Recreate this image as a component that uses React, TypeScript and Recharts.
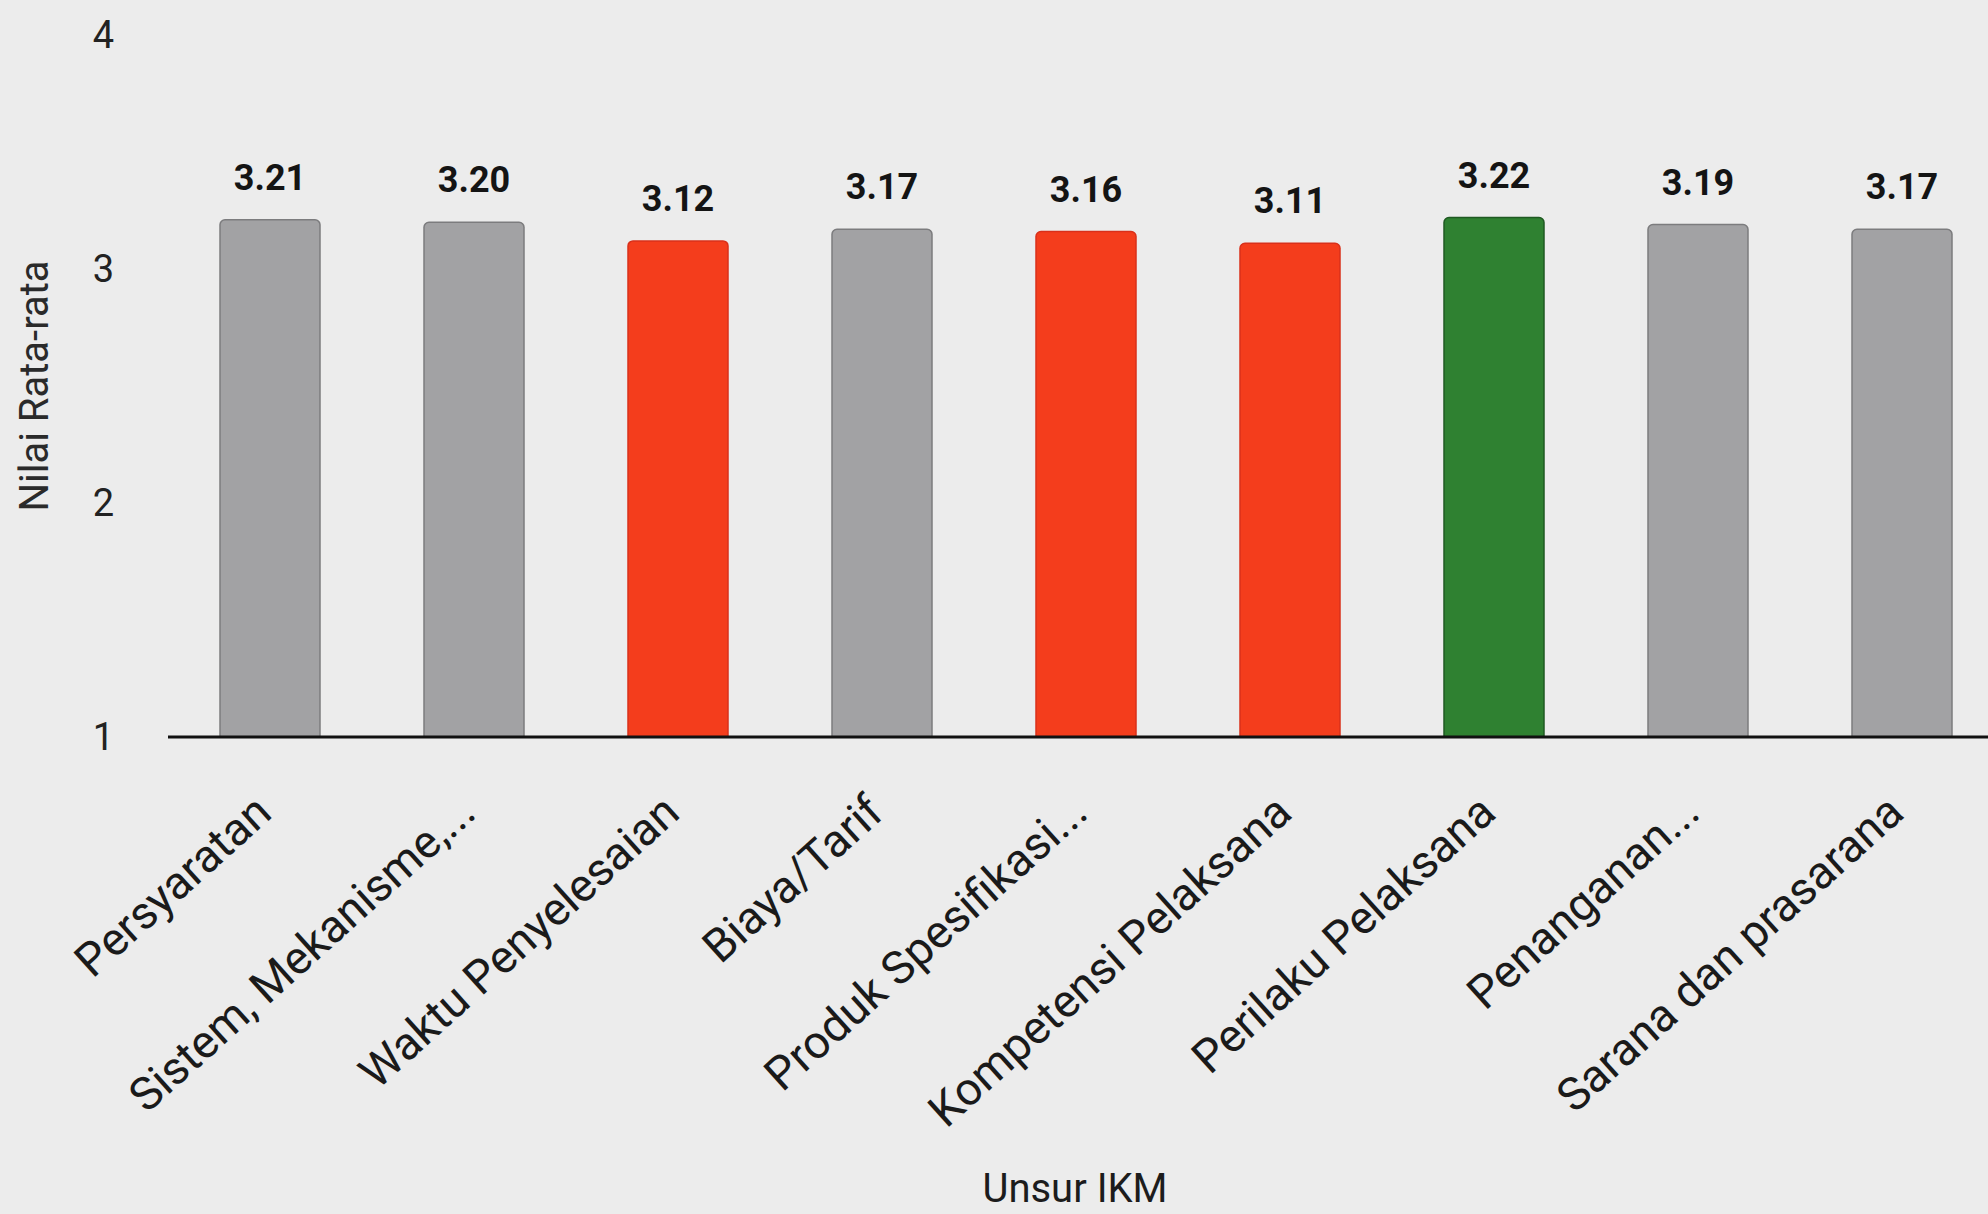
import React from 'react';
import { BarChart, Bar, XAxis, YAxis, Cell, LabelList } from 'recharts';

const categories = [
  'Persyaratan',
  'Sistem, Mekanisme,...',
  'Waktu Penyelesaian',
  'Biaya/Tarif',
  'Produk Spesifikasi...',
  'Kompetensi Pelaksana',
  'Perilaku Pelaksana',
  'Penanganan...',
  'Sarana dan prasarana',
];
const values = [3.21, 3.2, 3.12, 3.17, 3.16, 3.11, 3.22, 3.19, 3.17];
const barColors = ['#a2a2a4', '#a2a2a4', '#f43d1c', '#a2a2a4', '#f43d1c', '#f43d1c', '#2f8131', '#a2a2a4', '#a2a2a4'];
const barStrokes = ['#7c7c7e', '#7c7c7e', '#d9301a', '#7c7c7e', '#d9301a', '#d9301a', '#1f5a22', '#7c7c7e', '#7c7c7e'];
const yTicks = [1, 2, 3, 4];
const xTitle = 'Unsur IKM';
const yTitle = 'Nilai Rata-rata';

const data = categories.map((name, i) => ({ name, value: values[i] }));

const FONT = 'Roboto, "Noto Sans", sans-serif';

const CatTick = (props: any) => {
  const { x, y, payload } = props;
  return (
    <g transform={`translate(${x + 4},${y + 79})`}>
      <text transform="rotate(-42)" textAnchor="end" fontSize={46} fill="#1a1a1a" fontFamily={FONT}>
        {payload.value}
      </text>
    </g>
  );
};

const XTitle = (props: any) => {
  const { viewBox } = props;
  const cx = viewBox.x + viewBox.width / 2 - 11;
  return (
    <text x={cx} y={1202} textAnchor="middle" fontSize={40} fill="#1c1c1c" fontFamily={FONT}>
      {xTitle}
    </text>
  );
};

const YTitle = (props: any) => {
  const { viewBox } = props;
  const cy = viewBox.y + viewBox.height / 2;
  const cx = 34;
  return (
    <text
      x={cx}
      y={cy}
      transform={`rotate(-90, ${cx}, ${cy})`}
      textAnchor="middle"
      dominantBaseline="central"
      fontSize={40}
      fill="#2a2a2a"
      fontFamily={FONT}
    >
      {yTitle}
    </text>
  );
};

export default function App() {
  return (
    <div
      style={{
        position: 'fixed',
        left: 0,
        top: 0,
        width: 1988,
        height: 1214,
        overflow: 'hidden',
        background: '#ececec',
      }}
    >
      <BarChart
        width={2004}
        height={1214}
        data={data}
        margin={{ top: 35, right: 0, bottom: 0, left: 0 }}
        barSize={100}
      >
        <XAxis
          dataKey="name"
          interval={0}
          tick={<CatTick />}
          tickLine={false}
          tickSize={0}
          tickMargin={0}
          height={477}
          axisLine={{ stroke: '#111', strokeWidth: 3 }}
          label={<XTitle />}
        />
        <YAxis
          width={168}
          domain={[1, 4]}
          ticks={yTicks}
          allowDataOverflow
          axisLine={false}
          tickLine={false}
          tickSize={0}
          tickMargin={54}
          tick={{ fontSize: 38, fill: '#222', fontFamily: FONT }}
          label={<YTitle />}
        />
        <Bar dataKey="value" isAnimationActive={false} radius={[5, 5, 0, 0]} strokeWidth={1.5}>
          {data.map((d, i) => (
            <Cell key={d.name} fill={barColors[i]} stroke={barStrokes[i]} />
          ))}
          <LabelList
            dataKey="value"
            position="top"
            offset={30}
            formatter={(v: any) => Number(v).toFixed(2)}
            style={{ fontSize: 36, fontWeight: 700, fill: '#141414', fontFamily: FONT }}
          />
        </Bar>
      </BarChart>
    </div>
  );
}
